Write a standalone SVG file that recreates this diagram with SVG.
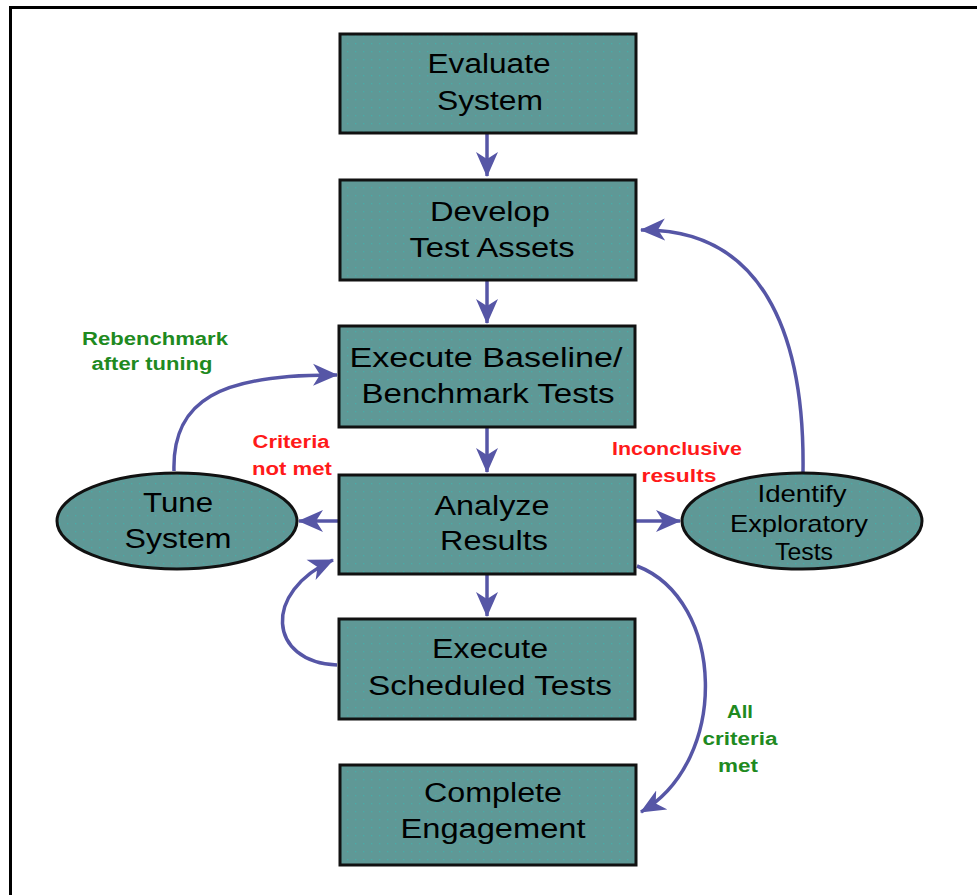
<svg xmlns="http://www.w3.org/2000/svg" width="977" height="895" viewBox="0 0 977 895">
<style>
.box{fill:url(#dots);stroke:#111;stroke-width:3}
.t{font-family:"Liberation Sans",Arial,sans-serif;font-size:27px;fill:#000;text-anchor:middle}
.te{font-family:"Liberation Sans",Arial,sans-serif;font-size:24px;fill:#000;text-anchor:middle}
.lg{font-family:"Liberation Sans",Arial,sans-serif;font-size:18px;font-weight:bold;fill:#1f8a1f;text-anchor:middle}
.lr{font-family:"Liberation Sans",Arial,sans-serif;font-size:18px;font-weight:bold;fill:#ff1a1a;text-anchor:middle}
.c{fill:none;stroke:#5656a6;stroke-width:3.5}
</style>
<defs>
<pattern id="dots" width="8" height="8" patternUnits="userSpaceOnUse">
<rect width="8" height="8" fill="#5f9896"/>
<rect x="3" y="3" width="1.3" height="1.3" fill="#48aca8"/>
</pattern>
<marker id="ah" markerUnits="userSpaceOnUse" markerWidth="26" markerHeight="24" viewBox="0 0 26 24" refX="24" refY="12" orient="auto">
<path d="M0,1 L25,12 L0,23 L7,12 z" fill="#5656a6"/>
</marker>
</defs>
<rect width="977" height="895" fill="#fff"/>
<path d="M10.5,895 V7.5 H977" fill="none" stroke="#000" stroke-width="3"/>

<g id="connectors">
<path class="c" d="M487,134 V176" marker-end="url(#ah)"/>
<path class="c" d="M487,281 V323" marker-end="url(#ah)"/>
<path class="c" d="M487,428 V472" marker-end="url(#ah)"/>
<path class="c" d="M487,575 V616" marker-end="url(#ah)"/>
<path class="c" d="M338,521 H299" marker-end="url(#ah)"/>
<path class="c" d="M636,521 H680" marker-end="url(#ah)"/>
<path class="c" d="M174,471 C172,400 220,374 337,375" marker-end="url(#ah)"/>
<path class="c" d="M803,472 C805,330 760,228 641,230" marker-end="url(#ah)"/>
<path class="c" d="M337,665 C268,662 262,592 333,560" marker-end="url(#ah)"/>
<path class="c" d="M637,566 C725,600 730,760 641,812" marker-end="url(#ah)"/>
</g>

<g id="evaluate">
<rect class="box" x="340" y="34" width="296" height="99"/>
<text class="t" x="489" y="73" textLength="123" lengthAdjust="spacingAndGlyphs">Evaluate</text>
<text class="t" x="490" y="110" textLength="106" lengthAdjust="spacingAndGlyphs">System</text>
</g>
<g id="develop">
<rect class="box" x="340" y="180" width="296" height="100"/>
<text class="t" x="490" y="221" textLength="120" lengthAdjust="spacingAndGlyphs">Develop</text>
<text class="t" x="492" y="257" textLength="165" lengthAdjust="spacingAndGlyphs">Test Assets</text>
</g>
<g id="baseline">
<rect class="box" x="339" y="326" width="296" height="101"/>
<text class="t" x="486" y="367" textLength="273" lengthAdjust="spacingAndGlyphs">Execute Baseline/</text>
<text class="t" x="488" y="403" textLength="253" lengthAdjust="spacingAndGlyphs">Benchmark Tests</text>
</g>
<g id="analyze">
<rect class="box" x="339" y="475" width="296" height="99"/>
<text class="t" x="492" y="515" textLength="115" lengthAdjust="spacingAndGlyphs">Analyze</text>
<text class="t" x="494" y="550" textLength="108" lengthAdjust="spacingAndGlyphs">Results</text>
</g>
<g id="scheduled">
<rect class="box" x="339" y="619" width="296" height="100"/>
<text class="t" x="490" y="658" textLength="116" lengthAdjust="spacingAndGlyphs">Execute</text>
<text class="t" x="490" y="695" textLength="244" lengthAdjust="spacingAndGlyphs">Scheduled Tests</text>
</g>
<g id="complete">
<rect class="box" x="340" y="765" width="296" height="100"/>
<text class="t" x="493" y="802" textLength="138" lengthAdjust="spacingAndGlyphs">Complete</text>
<text class="t" x="493" y="838" textLength="185" lengthAdjust="spacingAndGlyphs">Engagement</text>
</g>
<g id="tune">
<ellipse class="box" cx="177" cy="521" rx="120" ry="48"/>
<text class="t" x="178" y="512" textLength="70" lengthAdjust="spacingAndGlyphs">Tune</text>
<text class="t" x="178" y="548" textLength="107" lengthAdjust="spacingAndGlyphs">System</text>
</g>
<g id="identify">
<ellipse class="box" cx="802" cy="521" rx="120" ry="48"/>
<text class="te" x="802" y="502" textLength="89" lengthAdjust="spacingAndGlyphs">Identify</text>
<text class="te" x="799" y="532" textLength="138" lengthAdjust="spacingAndGlyphs">Exploratory</text>
<text class="te" x="804" y="560" textLength="58" lengthAdjust="spacingAndGlyphs">Tests</text>
</g>

<g id="labels">
<text class="lg" x="155" y="345" textLength="146" lengthAdjust="spacingAndGlyphs">Rebenchmark</text>
<text class="lg" x="152" y="370" textLength="121" lengthAdjust="spacingAndGlyphs">after tuning</text>
<text class="lr" x="291" y="448" textLength="77" lengthAdjust="spacingAndGlyphs">Criteria</text>
<text class="lr" x="292" y="475" textLength="80" lengthAdjust="spacingAndGlyphs">not met</text>
<text class="lr" x="677" y="455" textLength="130" lengthAdjust="spacingAndGlyphs">Inconclusive</text>
<text class="lr" x="679" y="482" textLength="75" lengthAdjust="spacingAndGlyphs">results</text>
<text class="lg" x="740" y="718" textLength="26" lengthAdjust="spacingAndGlyphs">All</text>
<text class="lg" x="740" y="745" textLength="75" lengthAdjust="spacingAndGlyphs">criteria</text>
<text class="lg" x="738" y="772" textLength="40" lengthAdjust="spacingAndGlyphs">met</text>
</g>
</svg>
